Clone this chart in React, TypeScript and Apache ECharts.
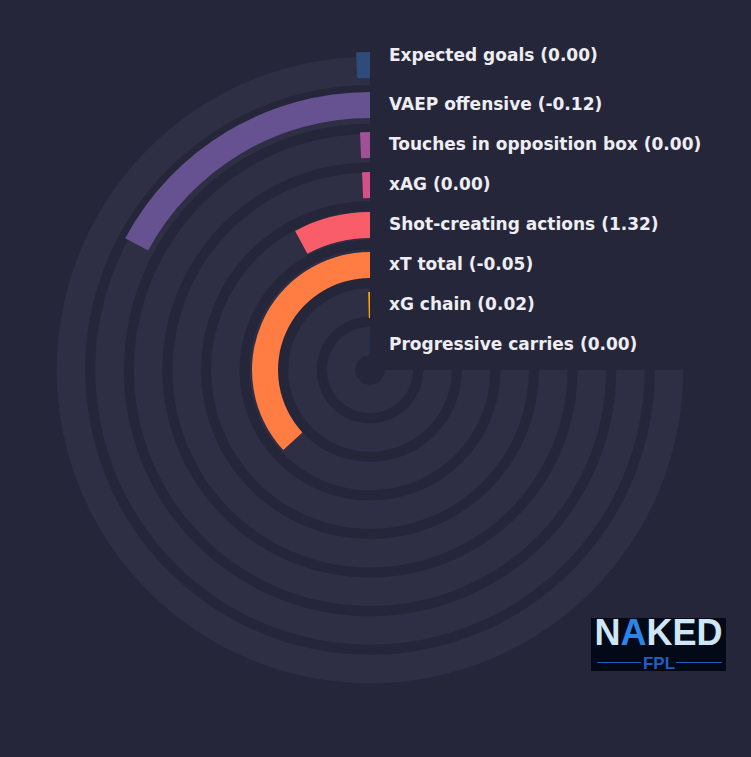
import { useEffect, useRef } from 'react';
import * as echarts from 'echarts';

// metrics, outer ring first
const categories = [
  'Expected goals',
  'VAEP offensive',
  'Touches in opposition box',
  'xAG',
  'Shot-creating actions',
  'xT total',
  'xG chain',
  'Progressive carries',
];
const metricValues = ['0.00', '-0.12', '0.00', '0.00', '1.32', '-0.05', '0.02', '0.00'];
// sweep of each bar in degrees (track is 270)
const barAngles = [2.5, 61.7, 2.4, 2.3, 28.3, 132.7, 1.3, 0.8];
const barColors = ['#2f4b7c', '#665191', '#a05195', '#d45087', '#f95d6a', '#ff7c43', '#ffa600', '#003f5c'];
const trackSweep = 270;

const BG = '#25263a';
const TRACK = '#2e2f44';
const CX = 370;
const CY = 370;

export default function App() {
  const ref = useRef<HTMLDivElement>(null);

  useEffect(() => {
    document.body.style.margin = '0';
    document.body.style.background = BG;
    if (!ref.current) return;
    const chart = echarts.init(ref.current, null, { renderer: 'svg' });

    const angleAxis = (polarIndex: number) => ({
      polarIndex,
      type: 'value',
      min: 0,
      max: 360,
      startAngle: 90,
      clockwise: false,
      show: false,
    });
    const radiusAxis = (polarIndex: number) => ({
      polarIndex,
      type: 'category',
      data: categories,
      inverse: true,
      show: false,
    });

    chart.setOption({
      animation: false,
      backgroundColor: BG,
      polar: [
        { center: [CX, CY], radius: [9.7, 318.3] },
        { center: [CX, CY], radius: [5, 325] },
      ],
      angleAxis: [angleAxis(0), angleAxis(1)],
      radiusAxis: [radiusAxis(0), radiusAxis(1)],
      series: [
        {
          type: 'bar',
          coordinateSystem: 'polar',
          polarIndex: 0,
          data: categories.map(() => trackSweep),
          barWidth: 28.5,
          itemStyle: { color: TRACK },
          silent: true,
        },
        {
          type: 'bar',
          coordinateSystem: 'polar',
          polarIndex: 1,
          data: barAngles.map((v, i) => ({ value: v, itemStyle: { color: barColors[i] } })),
          barWidth: 26,
          silent: true,
        },
      ],
    });

    // labels placed next to each ring's top
    const labels = categories.map((name, i) => {
      const pt = chart.convertToPixel({ polarIndex: 1 } as any, [i, 0]) as number[];
      const y = (pt ? pt[1] : CY) + (i === 0 ? -10 : -1.5);
      return {
        type: 'text',
        x: CX + 19,
        y,
        style: {
          text: `${name} (${metricValues[i]})`,
          fill: '#eeeef2',
          font: 'bold 17px "DejaVu Sans"',
          verticalAlign: 'middle',
        },
      };
    });

    const logo = {
      type: 'group',
      x: 591,
      y: 618,
      children: [
        { type: 'rect', shape: { x: 0, y: 0, width: 135, height: 53 }, style: { fill: '#040917' } },
        {
          type: 'text',
          x: 67.5,
          y: -4,
          style: {
            text: '{w|N}{b|A}{w|KED}',
            align: 'center',
            verticalAlign: 'top',
            rich: {
              w: { fill: '#cfe6f6', font: 'bold 36px "Liberation Sans"', lineHeight: 36 },
              b: { fill: '#2d84e8', font: 'bold 36px "Liberation Sans"', lineHeight: 36 },
            },
          },
        },
        { type: 'line', shape: { x1: 6, y1: 44.5, x2: 50, y2: 44.5 }, style: { stroke: '#1f5fc4', lineWidth: 1 } },
        { type: 'line', shape: { x1: 85, y1: 44.5, x2: 131, y2: 44.5 }, style: { stroke: '#1f5fc4', lineWidth: 1 } },
        {
          type: 'text',
          x: 68,
          y: 45,
          style: {
            text: 'FPL',
            fill: '#1f5fc4',
            font: 'bold 17px "Liberation Sans"',
            align: 'center',
            verticalAlign: 'middle',
          },
        },
      ],
    };

    chart.setOption({ graphic: [...labels, logo] });

    return () => chart.dispose();
  }, []);

  return <div ref={ref} style={{ width: 751, height: 757 }} />;
}
